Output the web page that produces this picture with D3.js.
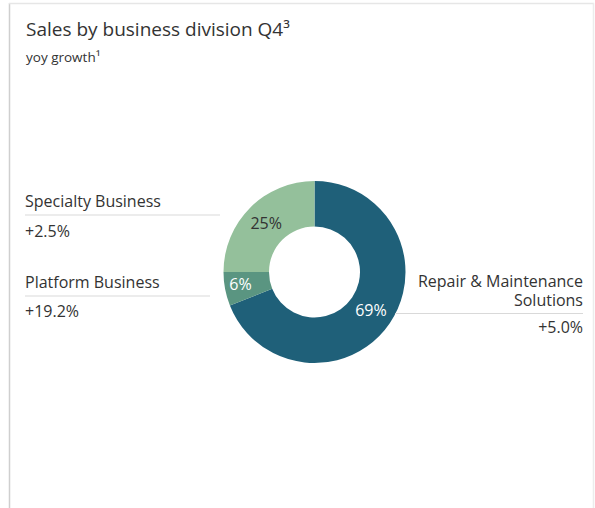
<!DOCTYPE html>
<html>
<head>
<meta charset="utf-8">
<script src="https://cdn.jsdelivr.net/npm/d3@7/dist/d3.min.js"></script>
<style>
  html, body { margin: 0; padding: 0; background: #fff; }
  svg { display: block; font-family: "Open Sans", sans-serif; }
</style>
</head>
<body>
<svg id="chart" width="595" height="508"></svg>
<script>
// Division data: share of Q4 sales and year-over-year growth
const divisions = ["Repair & Maintenance Solutions", "Platform Business", "Specialty Business"];
const shares = [69, 6, 25];
const growth = ["+5.0%", "+19.2%", "+2.5%"];
const colors = ["#1f6079", "#5a9581", "#94c09b"];
const labelColors = ["#ffffff", "#ffffff", "#333333"];

const svg = d3.select("#chart");
const textColor = "#333333";

// Card frame
svg.append("line").attr("x1", 9.5).attr("x2", 9.5).attr("y1", 3).attr("y2", 508)
  .attr("stroke", "#cfcfcf").attr("stroke-width", 1.5);
svg.append("line").attr("x1", 9).attr("x2", 594).attr("y1", 3.5).attr("y2", 3.5)
  .attr("stroke", "#e6e6e6").attr("stroke-width", 1.5);
svg.append("line").attr("x1", 593.5).attr("x2", 593.5).attr("y1", 3).attr("y2", 508)
  .attr("stroke", "#ececec").attr("stroke-width", 1.5);

// Title and subtitle
svg.append("text").attr("x", 26).attr("y", 36)
  .attr("font-size", 19).attr("fill", textColor)
  .text("Sales by business division Q4³");
svg.append("text").attr("x", 26).attr("y", 62)
  .attr("font-size", 13.5).attr("fill", textColor)
  .text("yoy growth¹");

// Donut
const cx = 314.5, cy = 272, outerR = 91, innerR = 45.5;
const pie = d3.pie().sort(null).value(d => d.value);
const arcs = pie(divisions.map((name, i) => ({ name, value: shares[i], i })));
const arc = d3.arc().innerRadius(innerR).outerRadius(outerR);

const g = svg.append("g").attr("transform", `translate(${cx},${cy})`);
g.selectAll("path.slice").data(arcs).join("path")
  .attr("class", "slice")
  .attr("d", arc)
  .attr("fill", d => colors[d.data.i]);

g.selectAll("text.pct").data(arcs).join("text")
  .attr("class", "pct")
  .attr("transform", d => {
    const [x, y] = arc.centroid(d);
    // keep narrow slice labels inside the ring
    const shift = (d.endAngle - d.startAngle) < 0.5 ? -7 : 0;
    return `translate(${x + shift},${y})`;
  })
  .attr("text-anchor", "middle")
  .attr("dy", "0.35em")
  .attr("font-size", 16)
  .attr("fill", d => labelColors[d.data.i])
  .text(d => d.data.value + "%");

// Side labels with growth figures
const sideLabels = [
  { i: 2, lines: ["Specialty Business"], x: 25, y: 207, rule: [25, 220, 215], gy: 237, anchor: "start" },
  { i: 1, lines: ["Platform Business"], x: 25, y: 288, rule: [25, 210, 296], gy: 317, anchor: "start" },
  { i: 0, lines: ["Repair & Maintenance", "Solutions"], x: 583, y: 287, rule: [395, 583, 313.5], gy: 333, anchor: "end" }
];

sideLabels.forEach(s => {
  s.lines.forEach((ln, k) => {
    svg.append("text").attr("x", s.x).attr("y", s.y + k * 18.5)
      .attr("text-anchor", s.anchor).attr("font-size", 16).attr("fill", textColor)
      .text(ln);
  });
  svg.append("line")
    .attr("x1", s.rule[0]).attr("x2", s.rule[1])
    .attr("y1", s.rule[2]).attr("y2", s.rule[2])
    .attr("stroke", "#d9d9d9").attr("stroke-width", 1.2);
  svg.append("text").attr("x", s.x).attr("y", s.gy)
    .attr("text-anchor", s.anchor).attr("font-size", 16).attr("fill", textColor)
    .text(growth[s.i]);
});
</script>
</body>
</html>
